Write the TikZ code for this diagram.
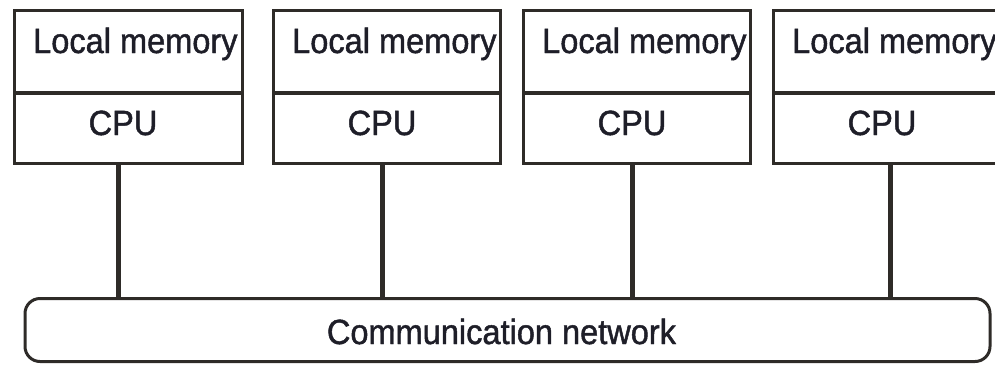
\documentclass[tikz,border=0pt]{standalone}
\usepackage{fontspec}
\setmainfont[FakeStretch=0.93,FakeBold=1.3]{Liberation Sans}
\definecolor{linec}{HTML}{2E2B28}
\definecolor{textc}{HTML}{1E1E28}
\begin{document}
\begin{tikzpicture}[x=1pt,y=-1pt,
  boxline/.style={draw=linec, line width=3pt},
  divline/.style={draw=linec, line width=4pt},
  bus/.style={draw=linec, line width=5pt},
  lbl/.style={text=textc, font=\fontsize{35}{40}\selectfont, inner sep=0pt, anchor=base},
  lblw/.style={lbl, anchor=base west}]
\useasboundingbox (0,0) rectangle (995,365);
\clip (0,0) rectangle (995,365);
% network
\node[boxline, rounded corners=15pt, minimum width=965pt, minimum height=63pt, inner sep=0pt] (net) at (507.5,330) {};
\node[lbl] (nettxt) at (501.5,344) {Communication network};
% processors
\foreach \i/\l/\r/\cx in {1/14/242/118, 2/273/500/382, 3/523/750/632, 4/773/1010/890}{
  \coordinate (tl\i) at (\l,10);
  \coordinate (br\i) at (\r,163);
  \draw[boxline] (tl\i) rectangle (br\i);
  \coordinate (dl\i) at (\l,93);
  \coordinate (dr\i) at (\r,93);
  \draw[divline] (dl\i) -- (dr\i);
  \node[lblw] (mem\i) at (\l+19,53) {Local memory};
  \node[lbl] (cpu\i) at (\l+109,135) {CPU};
  \coordinate (cb\i) at (\cx,164.5);
  \draw[bus] (cb\i) -- (cb\i |- net.north);
}
\end{tikzpicture}
\end{document}
